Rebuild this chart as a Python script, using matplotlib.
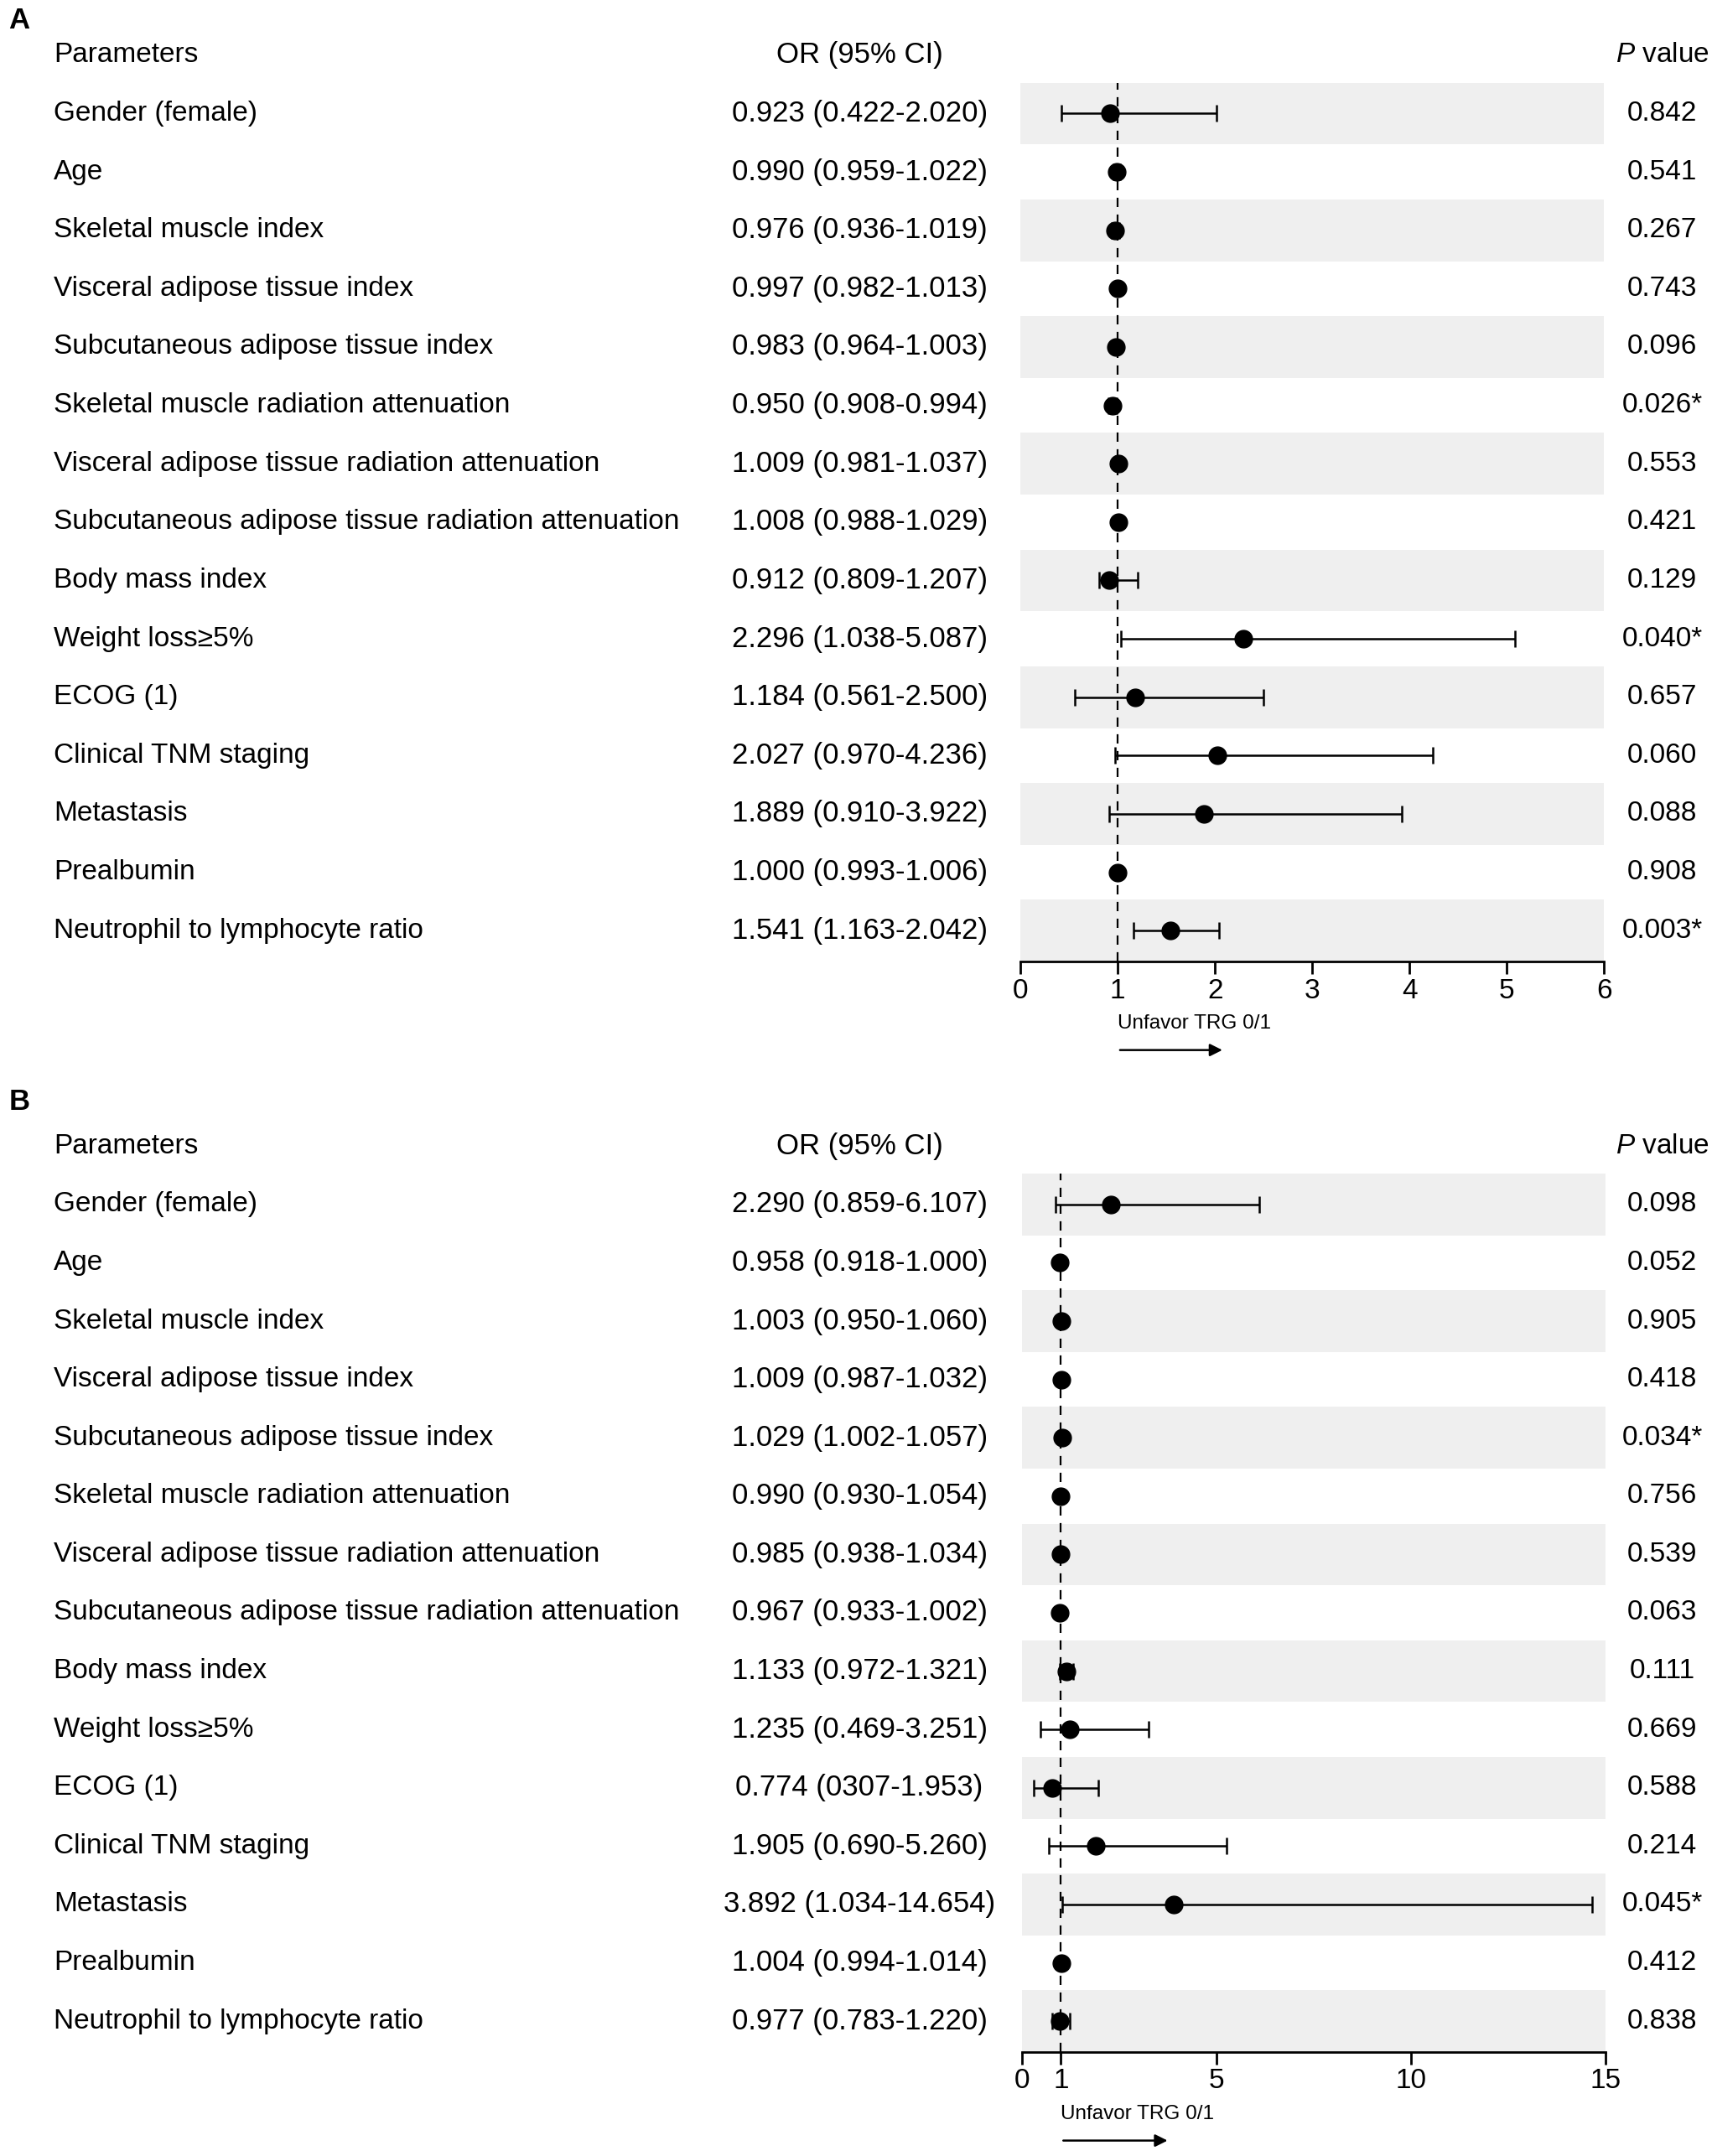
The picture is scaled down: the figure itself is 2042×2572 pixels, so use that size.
"""
Forest plots of logistic regression (OR with 95% CI) for TRG 0/1, panels A and B.
"""

from __future__ import annotations

import matplotlib

matplotlib.use("Agg")
import matplotlib.pyplot as plt  # noqa: E402
import numpy as np  # noqa: E402
from matplotlib.transforms import ScaledTranslation, blended_transform_factory  # noqa: E402

plt.rcParams["font.family"] = ["Liberation Sans", "DejaVu Sans"]
plt.rcParams["mathtext.fontset"] = "custom"
plt.rcParams["mathtext.rm"] = "Liberation Sans"
plt.rcParams["mathtext.it"] = "Liberation Sans:italic"

PARAMETERS = [
    "Gender (female)",
    "Age",
    "Skeletal muscle index",
    "Visceral adipose tissue index",
    "Subcutaneous adipose tissue index",
    "Skeletal muscle radiation attenuation",
    "Visceral adipose tissue radiation attenuation",
    "Subcutaneous adipose tissue radiation attenuation",
    "Body mass index",
    "Weight loss≥5%",
    "ECOG (1)",
    "Clinical TNM staging",
    "Metastasis",
    "Prealbumin",
    "Neutrophil to lymphocyte ratio",
]

# panel A
OR_A = [0.923, 0.990, 0.976, 0.997, 0.983, 0.950, 1.009, 1.008, 0.912, 2.296, 1.184, 2.027, 1.889, 1.000, 1.541]
LO_A = [0.422, 0.959, 0.936, 0.982, 0.964, 0.908, 0.981, 0.988, 0.809, 1.038, 0.561, 0.970, 0.910, 0.993, 1.163]
HI_A = [2.020, 1.022, 1.019, 1.013, 1.003, 0.994, 1.037, 1.029, 1.207, 5.087, 2.500, 4.236, 3.922, 1.006, 2.042]
OR_TEXT_A = [
    "0.923 (0.422-2.020)", "0.990 (0.959-1.022)", "0.976 (0.936-1.019)", "0.997 (0.982-1.013)",
    "0.983 (0.964-1.003)", "0.950 (0.908-0.994)", "1.009 (0.981-1.037)", "1.008 (0.988-1.029)",
    "0.912 (0.809-1.207)", "2.296 (1.038-5.087)", "1.184 (0.561-2.500)", "2.027 (0.970-4.236)",
    "1.889 (0.910-3.922)", "1.000 (0.993-1.006)", "1.541 (1.163-2.042)",
]
P_A = ["0.842", "0.541", "0.267", "0.743", "0.096", "0.026*", "0.553", "0.421",
       "0.129", "0.040*", "0.657", "0.060", "0.088", "0.908", "0.003*"]
XTICKS_A = [0, 1, 2, 3, 4, 5, 6]

# panel B
OR_B = [2.290, 0.958, 1.003, 1.009, 1.029, 0.990, 0.985, 0.967, 1.133, 1.235, 0.774, 1.905, 3.892, 1.004, 0.977]
LO_B = [0.859, 0.918, 0.950, 0.987, 1.002, 0.930, 0.938, 0.933, 0.972, 0.469, 0.307, 0.690, 1.034, 0.994, 0.783]
HI_B = [6.107, 1.000, 1.060, 1.032, 1.057, 1.054, 1.034, 1.002, 1.321, 3.251, 1.953, 5.260, 14.654, 1.014, 1.220]
OR_TEXT_B = [
    "2.290 (0.859-6.107)", "0.958 (0.918-1.000)", "1.003 (0.950-1.060)", "1.009 (0.987-1.032)",
    "1.029 (1.002-1.057)", "0.990 (0.930-1.054)", "0.985 (0.938-1.034)", "0.967 (0.933-1.002)",
    "1.133 (0.972-1.321)", "1.235 (0.469-3.251)", "0.774 (0307-1.953)", "1.905 (0.690-5.260)",
    "3.892 (1.034-14.654)", "1.004 (0.994-1.014)", "0.977 (0.783-1.220)",
]
P_B = ["0.098", "0.052", "0.905", "0.418", "0.034*", "0.756", "0.539", "0.063",
       "0.111", "0.669", "0.588", "0.214", "0.045*", "0.412", "0.838"]
XTICKS_B = [0, 1, 5, 10, 15]

FS = 24
OR_FS = 25
BAND = "#efefef"
HALF = 0.53


def draw_panel(fig, rect, letter, letter_y, odds, lo, hi, or_text, pvals, xticks, arrow_end):
    ax = fig.add_axes(rect)
    n = len(odds)
    ys = np.arange(n)
    ax.set_xlim(xticks[0], xticks[-1])
    ax.set_ylim(n - 1 + HALF, -HALF)

    for i in ys[::2]:
        ax.axhspan(i - HALF, i + HALF, color=BAND, lw=0, zorder=0)
    ax.axvline(1, color="black", lw=1.6, ls=(0, (5, 4)), zorder=1)

    odds = np.asarray(odds)
    err = np.vstack([odds - np.asarray(lo), np.asarray(hi) - odds])
    ax.errorbar(odds, ys, xerr=err, fmt="none", ecolor="black",
                elinewidth=1.8, capsize=7, capthick=1.8, zorder=3)
    ax.plot(odds, ys, "o", color="black", ms=15, zorder=4)

    for side in ("top", "right", "left"):
        ax.spines[side].set_visible(False)
    ax.spines["bottom"].set_linewidth(2.0)
    ax.set_yticks([])
    ax.set_xticks(xticks)
    ax.tick_params(axis="x", length=11, width=2.0, labelsize=FS, pad=3)

    tr = blended_transform_factory(fig.transFigure, ax.transData)
    ax.text(0.0314, -1.0, "Parameters", transform=tr, fontsize=FS, va="center", ha="left")
    ax.text(0.502, -1.0, "OR (95% CI)", transform=tr, fontsize=OR_FS, va="center", ha="center")
    ax.text(0.971, -1.0, r"$\it{P}$ value", transform=tr, fontsize=FS, va="center", ha="center")
    for i in ys:
        ax.text(0.0314, i, PARAMETERS[i], transform=tr, fontsize=FS, va="center", ha="left")
        ax.text(0.502, i, or_text[i], transform=tr, fontsize=OR_FS, va="center", ha="center")
        ax.text(0.971, i, pvals[i], transform=tr, fontsize=FS, va="center", ha="center")

    fig.text(0.0113, letter_y, letter, fontsize=FS + 1, fontweight="bold", ha="center", va="center")

    base = blended_transform_factory(ax.transData, ax.transAxes)
    t_txt = base + ScaledTranslation(0, -53 / 72, fig.dpi_scale_trans)
    t_arr = base + ScaledTranslation(0, -76 / 72, fig.dpi_scale_trans)
    ax.text(1, 0, "Unfavor TRG 0/1", transform=t_txt, fontsize=17.5, ha="left", va="center")
    ax.annotate("", xy=(arrow_end, 0), xytext=(1, 0), xycoords=t_arr, textcoords=t_arr,
                arrowprops=dict(arrowstyle="-|>", color="black", lw=1.8, mutation_scale=22))
    return ax


def main() -> None:
    fig = plt.figure(figsize=(20.42, 25.72), dpi=100)
    draw_panel(fig, [0.596, 0.554, 0.341, 0.4077], "A", 0.9904,
               OR_A, LO_A, HI_A, OR_TEXT_A, P_A, XTICKS_A, 2.1)
    draw_panel(fig, [0.597, 0.0482, 0.3408, 0.4075], "B", 0.489,
               OR_B, LO_B, HI_B, OR_TEXT_B, P_B, XTICKS_B, 3.8)
    fig.savefig("out.png", dpi=100, facecolor="white")
    plt.close(fig)


if __name__ == "__main__":
    main()
